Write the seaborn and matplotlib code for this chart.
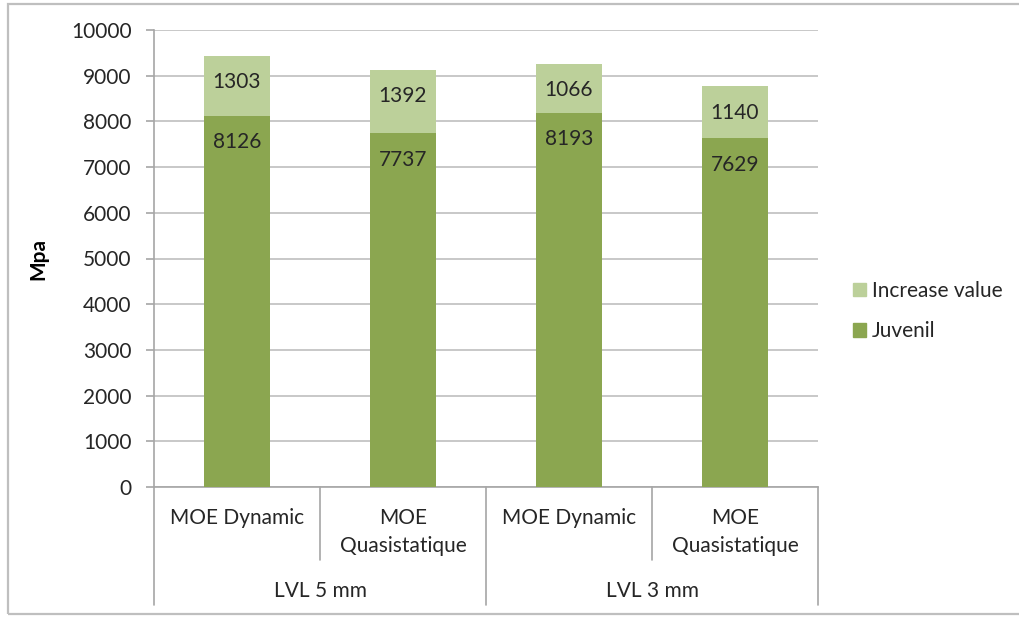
import matplotlib
matplotlib.use("Agg")
import matplotlib.pyplot as plt
import matplotlib.transforms as mtransforms
from matplotlib.patches import Rectangle, Patch
import seaborn as sns
import pandas as pd

# ---- data ----
groups = ["LVL 5 mm", "LVL 3 mm"]
sub_labels = ["MOE Dynamic", "MOE\nQuasistatique", "MOE Dynamic", "MOE\nQuasistatique"]
juvenil = [8126, 7737, 8193, 7629]
increase = [1303, 1392, 1066, 1140]
y_ticks = [0, 1000, 2000, 3000, 4000, 5000, 6000, 7000, 8000, 9000, 10000]

keys = ["c%d" % i for i in range(len(juvenil))]
df = pd.DataFrame({"key": keys, "juvenil": juvenil, "increase": increase})
df["total"] = df["juvenil"] + df["increase"]

sns.set_style("white")
plt.rcParams["font.family"] = ["Lato", "DejaVu Sans"]

FS = 15
dark = "#8BA650"
light = "#BCD09A"
txt = "#262626"
axc = "#A6A6A6"

fig = plt.figure(figsize=(10.19, 6.17), dpi=100)
ax = fig.add_axes([154/1019, 1-487/617, (818-154)/1019, (487-30)/617])

sns.barplot(data=df, x="key", y="total", order=keys, color=light, width=0.4,
            saturation=1, ax=ax, zorder=3, linewidth=0, edgecolor="none")
sns.barplot(data=df, x="key", y="juvenil", order=keys, color=dark, width=0.4,
            saturation=1, ax=ax, zorder=3, linewidth=0, edgecolor="none")

ax.set_ylim(0, 10000)
ax.set_xlim(-0.5, len(keys) - 0.5)
ax.set_yticks(y_ticks)
ax.set_yticklabels([str(v) for v in y_ticks], fontsize=FS, color=txt)
ax.yaxis.grid(True, color="#BFBFBF", lw=1.2, zorder=0)
ax.set_axisbelow(True)
ax.tick_params(axis="y", length=6, color=axc, width=1.2, pad=10, left=True)
ax.tick_params(axis="x", length=0, labelbottom=False)
ax.set_xlabel("")
ax.set_ylabel("Mpa", fontsize=15, fontweight="bold", color="black")
ax.yaxis.set_label_coords((48 - 154) / 664.0, 0.5)
for s in ["top", "right"]:
    ax.spines[s].set_visible(False)
for s in ["left", "bottom"]:
    ax.spines[s].set_color(axc)
    ax.spines[s].set_linewidth(1.2)

# data labels (inside end)
light_bars = ax.patches[:len(keys)]
dark_bars = ax.patches[len(keys):]
for bars, vals in ((light_bars, increase), (dark_bars, juvenil)):
    for p, v in zip(bars, vals):
        ax.annotate(str(v), (p.get_x() + p.get_width()/2, p.get_height()),
                    xytext=(0, -19), textcoords="offset points",
                    ha="center", va="center", fontsize=FS, color=txt, zorder=5)

# hierarchical category axis
trans = mtransforms.blended_transform_factory(ax.transData, ax.transAxes)
def ay(py):
    return -(py - 487) / 457.0
n = len(keys)
for i in range(n + 1):
    xb = i - 0.5
    long = (i % 2 == 0)
    ax.plot([xb, xb], [0, ay(605 if long else 560)], transform=trans,
            color=axc, lw=1.2, clip_on=False)
for i, lab in enumerate(sub_labels):
    lines = lab.split("\n")
    for j, line in enumerate(lines):
        ax.text(i, ay(518 + 28*j), line, transform=trans, ha="center", va="center",
                fontsize=FS, color=txt)
for g, name in enumerate(groups):
    ax.text(2*g + 0.5, ay(591), name, transform=trans, ha="center", va="center",
            fontsize=FS, color=txt)

# legend
handles = [Patch(facecolor=light, edgecolor=light), Patch(facecolor=dark, edgecolor=dark)]
fig.legend(handles, ["Increase value", "Juvenil"], loc="center left",
           bbox_to_anchor=(853/1019, 1-311/617), frameon=False, fontsize=FS,
           handlelength=0.6, handleheight=0.6, handletextpad=0.3,
           labelspacing=1.0, borderpad=0, borderaxespad=0, labelcolor=txt)

# outer border
fig.patches.append(Rectangle((8/1019, 1-614/617), 1.05, (614-4)/617,
                             transform=fig.transFigure, fill=False,
                             edgecolor="#BFBFBF", lw=1.6))

fig.savefig("out.png", dpi=100)
